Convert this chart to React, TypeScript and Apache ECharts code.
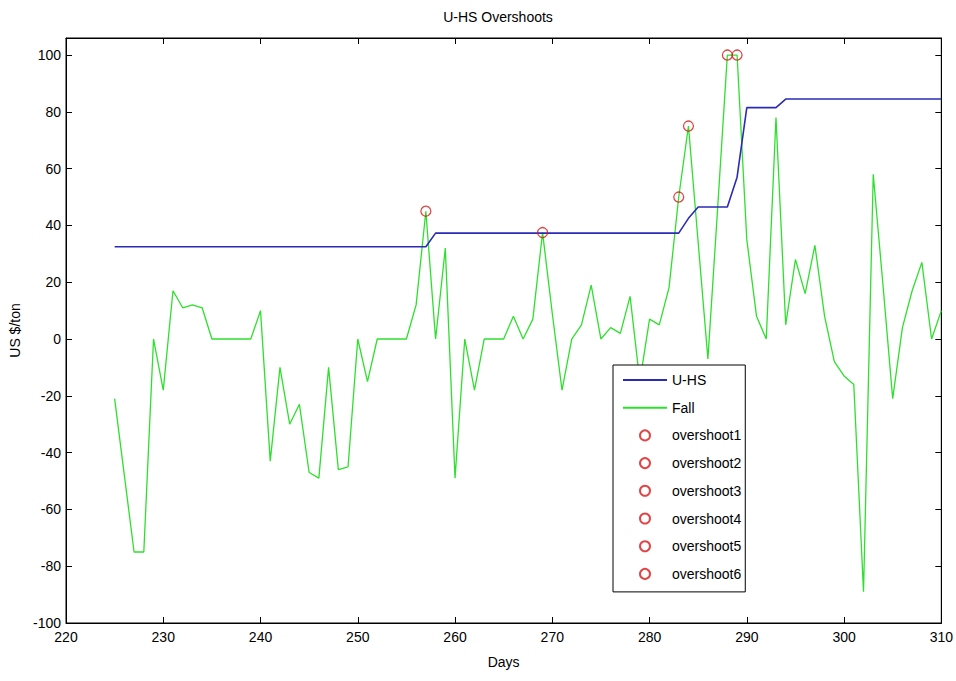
import React, { useEffect, useRef } from "react";
import * as echarts from "echarts";

const days = [
  225, 226, 227, 228, 229, 230, 231, 232, 233, 234, 235, 236, 237, 238, 239, 240,
  241, 242, 243, 244, 245, 246, 247, 248, 249, 250, 251, 252, 253, 254, 255, 256,
  257, 258, 259, 260, 261, 262, 263, 264, 265, 266, 267, 268, 269, 270, 271, 272,
  273, 274, 275, 276, 277, 278, 279, 280, 281, 282, 283, 284, 285, 286, 287, 288,
  289, 290, 291, 292, 293, 294, 295, 296, 297, 298, 299, 300, 301, 302, 303, 304,
  305, 306, 307, 308, 309, 310,
];

const uhs = [
  32.5, 32.5, 32.5, 32.5, 32.5, 32.5, 32.5, 32.5, 32.5, 32.5, 32.5, 32.5, 32.5, 32.5, 32.5, 32.5,
  32.5, 32.5, 32.5, 32.5, 32.5, 32.5, 32.5, 32.5, 32.5, 32.5, 32.5, 32.5, 32.5, 32.5, 32.5, 32.5,
  32.5, 37.3, 37.3, 37.3, 37.3, 37.3, 37.3, 37.3, 37.3, 37.3, 37.3, 37.3, 37.3, 37.3, 37.3, 37.3,
  37.3, 37.3, 37.3, 37.3, 37.3, 37.3, 37.3, 37.3, 37.3, 37.3, 37.3, 42.5, 46.5, 46.5, 46.5, 46.5,
  57, 81.5, 81.5, 81.5, 81.5, 84.5, 84.5, 84.5, 84.5, 84.5, 84.5, 84.5, 84.5, 84.5, 84.5, 84.5,
  84.5, 84.5, 84.5, 84.5, 84.5, 84.5,
];

const fall = [
  -21, -48, -75, -75, 0, -18, 17, 11, 12, 11, 0, 0, 0, 0, 0, 10,
  -43, -10, -30, -23, -47, -49, -10, -46, -45, 0, -15, 0, 0, 0, 0, 12,
  45, 0, 32, -49, 0, -18, 0, 0, 0, 8, 0, 7, 37.5, 9, -18, 0,
  5, 19, 0, 4, 2, 15, -15, 7, 5, 18, 50, 75, 34, -7, 46, 100,
  100, 35, 8, 0, 78, 5, 28, 16, 33, 8, -8, -13, -16, -89, 58, 19,
  -21, 4, 17, 27, 0, 10,
];

const overshootNames = ["overshoot1", "overshoot2", "overshoot3", "overshoot4", "overshoot5", "overshoot6"];
const overshootDays = [257, 269, 283, 284, 288, 289];
const overshootValues = [45, 37.5, 50, 75, 100, 100];

const xTicks = [220, 230, 240, 250, 260, 270, 280, 290, 300, 310];
const yTicks = [-100, -80, -60, -40, -20, 0, 20, 40, 60, 80, 100];

const FONT = "'Liberation Sans', Arial, sans-serif";

export default function App() {
  const ref = useRef<HTMLDivElement>(null);

  useEffect(() => {
    if (!ref.current) return;
    const chart = echarts.init(ref.current, undefined, { renderer: "svg" });

    const axisCommon = {
      type: "value" as const,
      axisLine: { show: true, onZero: false, lineStyle: { color: "#000", width: 1 } },
      axisTick: { show: true, inside: true, length: 6, lineStyle: { color: "#000" } },
      splitLine: { show: false },
    };

    const overshootSeries = overshootNames.map((n, i) => ({
      name: n,
      type: "scatter" as const,
      data: [[overshootDays[i], overshootValues[i]]],
      symbol: "circle",
      symbolSize: 10,
      itemStyle: { color: "rgba(0,0,0,0)", borderColor: "#d81818", borderWidth: 1.3 },
      z: 5,
    }));

    chart.setOption({
      animation: false,
      backgroundColor: "#fff",
      textStyle: { fontFamily: FONT },
      grid: {
        left: 66,
        top: 38,
        width: 877,
        height: 585,
        show: true,
        borderColor: "#000",
        borderWidth: 1,
        backgroundColor: "#fff",
      },
      graphic: [
        {
          type: "text",
          x: 498,
          y: 10,
          style: {
            text: "U-HS Overshoots",
            fill: "#000",
            font: `14px ${FONT}`,
            textAlign: "center",
          },
        },
      ],
      xAxis: [
        {
          ...axisCommon,
          position: "bottom",
          min: 220,
          max: 310,
          interval: 10,
          name: "Days",
          nameLocation: "middle",
          nameGap: 32,
          nameTextStyle: { color: "#000", fontSize: 14, fontFamily: FONT },
          axisLabel: {
            color: "#000",
            fontSize: 14,
            fontFamily: FONT,
            margin: 7,
            formatter: (v: number) => (xTicks.includes(v) ? String(v) : ""),
          },
        },
        {
          ...axisCommon,
          position: "top",
          min: 220,
          max: 310,
          interval: 10,
          axisLabel: { show: false },
        },
      ],
      yAxis: [
        {
          ...axisCommon,
          position: "left",
          min: -100,
          max: 106,
          interval: 20,
          name: "US $/ton",
          nameLocation: "middle",
          nameGap: 40,
          nameTextStyle: { color: "#000", fontSize: 14, fontFamily: FONT },
          axisLabel: {
            color: "#000",
            fontSize: 14,
            fontFamily: FONT,
            margin: 5,
            formatter: (v: number) => (yTicks.includes(v) ? String(v) : ""),
          },
        },
        {
          ...axisCommon,
          position: "right",
          min: -100,
          max: 106,
          interval: 20,
          axisLabel: { show: false },
        },
      ],
      legend: {
        orient: "vertical",
        left: 613,
        top: 365,
        padding: [8, 4, 11, 9],
        itemWidth: 44,
        itemHeight: 10,
        itemGap: 13.7,
        backgroundColor: "#fff",
        borderColor: "#000",
        borderWidth: 1,
        borderRadius: 0,
        textStyle: { color: "#000", fontSize: 14, fontFamily: FONT },
        data: [
          { name: "U-HS", itemStyle: { opacity: 0 } },
          { name: "Fall", itemStyle: { opacity: 0 } },
          ...overshootNames,
        ],
      },
      series: [
        {
          name: "U-HS",
          type: "line",
          data: days.map((d, i) => [d, uhs[i]]),
          symbol: "none",
          lineStyle: { color: "#2b2bb8", width: 1.6 },
          itemStyle: { color: "#2b2bb8" },
          z: 3,
        },
        {
          name: "Fall",
          type: "line",
          data: days.map((d, i) => [d, fall[i]]),
          symbol: "none",
          lineStyle: { color: "#2ee02e", width: 1.3 },
          itemStyle: { color: "#2ee02e" },
          z: 2,
        },
        ...overshootSeries,
      ],
    });

    return () => chart.dispose();
  }, []);

  return (
    <div
      ref={ref}
      style={{ position: "fixed", left: 0, top: 0, width: 956, height: 681 }}
    />
  );
}
